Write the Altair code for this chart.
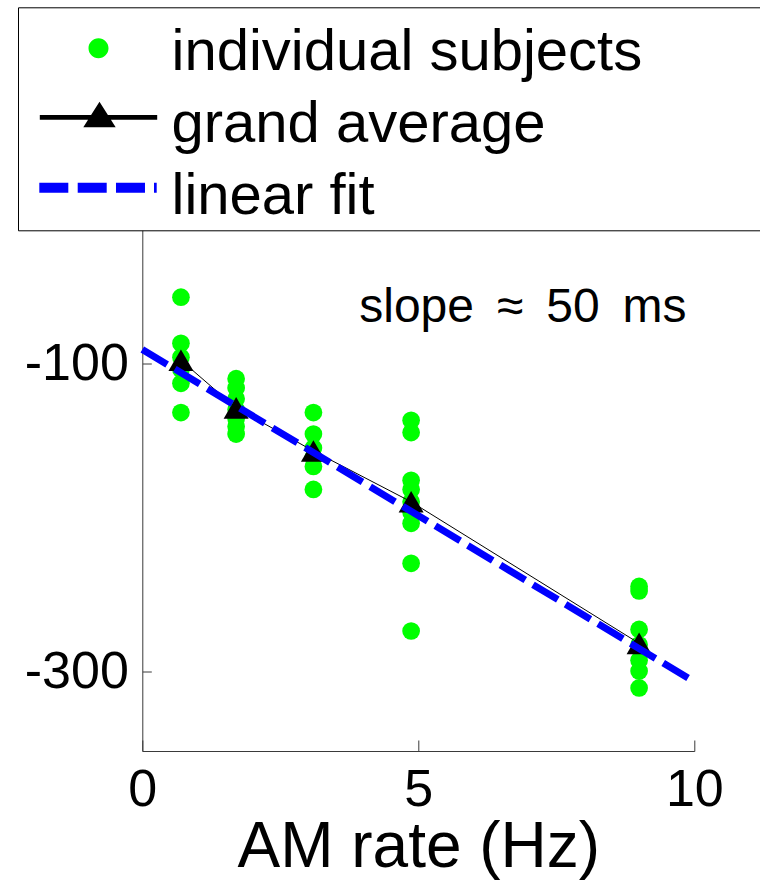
import altair as alt
import pandas as pd

# AM modulation rates (Hz)
rates = [0.7, 1.7, 3.1, 4.87, 9.0]

# individual subject values at each rate
subj_r0 = [-57, -87, -96, -104, -113, -132]
subj_r1 = [-110, -116, -123, -130, -136, -141, -146]
subj_r2 = [-132, -146, -155, -161, -167, -182]
subj_r3 = [-137, -145, -176, -182, -190, -197, -204, -230, -274]
subj_r4 = [-245, -248, -273, -283, -293, -300, -311]

# grand average across subjects
grand_avg = [-98, -129, -157, -190, -282]

# linear fit end points
fit_x = [0, 10]
fit_y = [-91, -307]

x_ticks = [0, 5, 10]
y_ticks = [-100, -300]

legend_labels = ["individual subjects", "grand average", "linear fit"]
legend_colors = ["#00ff00", "#000000", "#0000ff"]

note_x = [3.93]
note_y = [-73]
note_text = ["slope \u2009\u2248 \u200950 \u2009ms"]

FONT = "Liberation Sans"

# legend glyphs as filled paths (units of half the symbol size);
# the empty sub-path on the dot glyph stretches the legend frame to the right
glyph_dot = ("M0.345,-0.172A0.345,0.345 0 1,1 -0.345,-0.172"
             "A0.345,0.345 0 1,1 0.345,-0.172Z"
             "M23.5,0L23.5,0")
glyph_avg = ("M-2.024,-0.343H2.024V-0.181H-2.024Z"
             "M0.034,-0.8L0.593,0.083L-0.524,0.083Z")
glyph_fit = ("M-2.041,-0.476H-1.041V-0.131H-2.041Z"
             "M-0.717,-0.476H0.283V-0.131H-0.717Z"
             "M0.603,-0.476H1.603V-0.131H0.603Z"
             "M1.914,-0.476H2.007V-0.131H1.914Z")
legend_glyphs = [glyph_dot, glyph_avg, glyph_fit]

subj_groups = [subj_r0, subj_r1, subj_r2, subj_r3, subj_r4]
subjects = pd.DataFrame(
    [{"rate": r, "value": v} for r, vals in zip(rates, subj_groups) for v in vals]
)
avg_df = pd.DataFrame({"rate": rates, "value": grand_avg})
fit_df = pd.DataFrame({"rate": fit_x, "value": fit_y})
note_df = pd.DataFrame({"rate": note_x, "value": note_y, "text": note_text})
legend_df = pd.DataFrame({"series": legend_labels})

x_scale = alt.Scale(domain=[0, 10], nice=False, zero=False)
y_scale = alt.Scale(domain=[-352, 0], nice=False, zero=False)

x_axis = alt.Axis(
    values=x_ticks, title="AM rate (Hz)", tickSize={"expr": "-11"},
    labelFontSize=52, labelPadding=24, labelFlush=False,
    titleFontSize=64, titlePadding=0,
)
y_axis = alt.Axis(
    values=y_ticks, title=None, tickSize={"expr": "-9"},
    labelFontSize=52, labelPadding=23, labelExpr="toString(datum.value)",
)

X = alt.X("rate:Q", scale=x_scale, axis=x_axis)
Y = alt.Y("value:Q", scale=y_scale, axis=y_axis)

dots = alt.Chart(subjects).mark_circle(size=314, color="#00ff00", opacity=1).encode(x=X, y=Y)
avg_line = alt.Chart(avg_df).mark_line(color="black", strokeWidth=1).encode(x=X, y=Y)
avg_marks = alt.Chart(avg_df).mark_point(
    shape="triangle-up", filled=True, size=625, color="black", opacity=1
).encode(x=X, y=Y)
fit_line = alt.Chart(fit_df).mark_line(
    color="#0000ff", strokeWidth=7, strokeDash=[29, 9]
).encode(x=X, y=Y)
note = alt.Chart(note_df).mark_text(
    font=FONT, fontSize=48, align="left", baseline="alphabetic", color="black"
).encode(x=X, y=Y, text="text:N")

legend = alt.Legend(
    title="\u00a0", titleFontSize=8, titlePadding=5,
    orient="none", legendX=-124.3, legendY=-202.2, direction="vertical",
    padding=4, rowPadding=13.6,
    symbolSize=3364, symbolStrokeWidth=0, symbolOpacity=1, symbolOffset=47.5,
    labelOffset=44, labelFontSize=58, labelFont=FONT, labelColor="black",
    labelLimit=2000, labelBaseline="middle",
    fillColor="white", strokeColor="black",
)
legend_layer = alt.Chart(legend_df).mark_point(filled=True).encode(
    color=alt.Color("series:N", scale=alt.Scale(domain=legend_labels, range=legend_colors), legend=legend),
    shape=alt.Shape("series:N", scale=alt.Scale(domain=legend_labels, range=legend_glyphs), legend=legend),
).transform_filter("false")

chart = alt.layer(dots, avg_line, avg_marks, fit_line, note, legend_layer).properties(
    width=552, height=541.5,
    autosize=alt.AutoSizeParams(type="none"),
    padding={"left": 142.3, "top": 209.5, "right": 65.7, "bottom": 132},
    background="white",
).configure_view(stroke=None).configure_axis(
    grid=False, domainColor="#3a3a3a", domainWidth=1, tickColor="#3a3a3a", tickWidth=1,
    labelFont=FONT, titleFont=FONT, labelColor="black", titleColor="black",
    titleFontWeight="normal",
)

chart.save("out.html", embed_options={"renderer": "svg", "actions": False})
